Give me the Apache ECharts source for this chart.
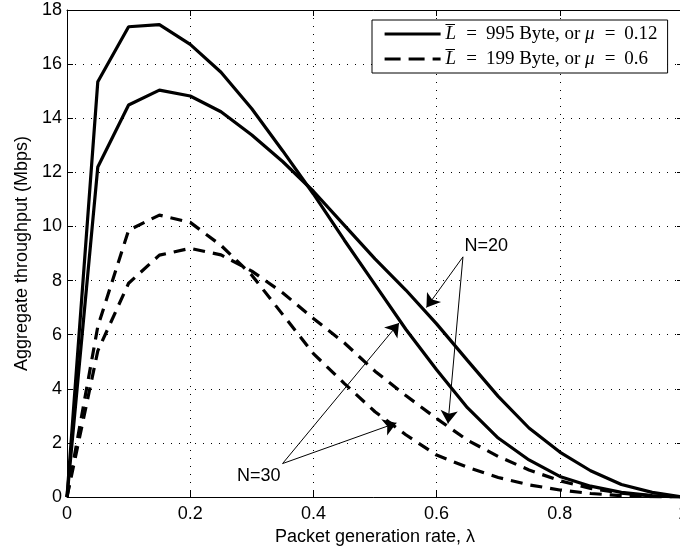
<!DOCTYPE html>
<html><head><meta charset="utf-8">
<script src="https://cdn.jsdelivr.net/npm/echarts@6/dist/echarts.min.js"></script>
<style>html,body{margin:0;padding:0;background:#fff}#c{width:680px;height:550px}</style>
</head><body><div id="c"></div>
<script>
// ---- data ----
const lambda = [0, 0.05, 0.1, 0.15, 0.2, 0.25, 0.3, 0.35, 0.4, 0.45, 0.5, 0.55, 0.6, 0.65, 0.7, 0.75, 0.8, 0.85, 0.9, 0.95, 1.0];
const n30Solid  = [0, 15.35, 17.38, 17.46, 16.73, 15.7, 14.35, 12.8, 11.2, 9.5, 7.85, 6.2, 4.7, 3.3, 2.18, 1.37, 0.76, 0.4, 0.17, 0.05, 0];
const n20Solid  = [0, 12.2, 14.49, 15.04, 14.82, 14.24, 13.38, 12.4, 11.3, 10.05, 8.8, 7.65, 6.4, 5.05, 3.72, 2.55, 1.66, 0.97, 0.46, 0.17, 0];
const n30Dashed = [0, 6.3, 9.86, 10.42, 10.15, 9.3, 8.2, 6.75, 5.3, 4.2, 3.15, 2.3, 1.55, 1.1, 0.72, 0.45, 0.26, 0.13, 0.05, 0.01, 0];
const n20Dashed = [0, 5.4, 7.9, 8.94, 9.19, 8.95, 8.35, 7.55, 6.6, 5.7, 4.65, 3.75, 2.9, 2.1, 1.5, 1.0, 0.6, 0.32, 0.14, 0.04, 0];

const seriesNames = ['L\u0305 = 995 Byte, or \u03bc = 0.12', 'L\u0305 = 199 Byte, or \u03bc = 0.6'];
const legendParts = [['995 Byte, or ', '0.12'], ['199 Byte, or ', '0.6']];
const xTitle = 'Packet generation rate, \u03bb';
const yTitle = 'Aggregate throughput (Mbps)';

// annotations (data coordinates)
const n20LabelText = 'N=20';
const n30LabelText = 'N=30';
const n20LabelPos = [0.6805, 9.29];
const n30LabelPos = [0.3114, 0.784];
const n20ArrowStart = [0.6428, 8.876];
const n20ArrowEnds = [[0.5835, 7.004], [0.6185, 2.714]];
const n30ArrowStart = [0.3499, 1.235];
const n30ArrowEnds = [[0.539, 6.435], [0.5348, 2.737]];

const zip = (xs, ys) => xs.map((x, i) => [x, ys[i]]);

const SANS = 'Liberation Sans, Arial, Helvetica, sans-serif';
const SERIF = 'Liberation Serif, DejaVu Serif, serif';

const arrowLines = [];
n20ArrowEnds.forEach(e => arrowLines.push([{coord: n20ArrowStart}, {coord: e}]));
n30ArrowEnds.forEach(e => arrowLines.push([{coord: n30ArrowStart}, {coord: e}]));

function legendFmt(name) {
  const p = legendParts[seriesNames.indexOf(name)];
  return '{i|L\u0305}{e|=}{t|' + p[0] + '}{i|\u03bc}{e|=}{t|' + p[1] + '}';
}

const solidW = 3.2;
const dashPattern = [12, 8];
const FS = 19;

const chart = echarts.init(document.getElementById('c'), null, {renderer: 'canvas'});
chart.setOption({
  animation: false,
  backgroundColor: '#fff',
  grid: {left: 67, top: 10, width: 616, height: 487, containLabel: false, outerBoundsMode: 'none'},
  legend: {
    data: [
      {name: seriesNames[0], lineStyle: {width: solidW, color: '#000', type: 'solid'}},
      {name: seriesNames[1], lineStyle: {width: solidW, color: '#000', type: [16, 8]}}
    ],
    left: 372, top: 20,
    orient: 'vertical',
    itemWidth: 56, itemHeight: 14, itemGap: 5,
    padding: [4, 10, 4, 11],
    borderColor: '#000', borderWidth: 1,
    backgroundColor: '#fff',
    selectedMode: false,
    itemStyle: {opacity: 0},
    lineStyle: {width: solidW, color: '#000'},
    formatter: legendFmt,
    textStyle: {
      color: '#000', fontFamily: SERIF, fontSize: FS, lineHeight: 20,
      rich: {
        i: {fontFamily: SERIF, fontStyle: 'italic', fontSize: FS, color: '#000', lineHeight: 20, padding: [0, 1, 0, 0]},
        e: {fontFamily: SERIF, fontSize: FS, color: '#000', lineHeight: 20, padding: [0, 9, 0, 9]},
        t: {fontFamily: SERIF, fontSize: FS, color: '#000', lineHeight: 20}
      }
    }
  },
  xAxis: [{
    type: 'value', min: 0, max: 1, interval: 0.2, position: 'bottom',
    name: xTitle, nameLocation: 'middle', nameGap: 29,
    nameTextStyle: {color: '#000', fontFamily: SANS, fontSize: 18},
    axisLine: {show: true, onZero: false, lineStyle: {color: '#000', width: 1}},
    axisTick: {show: true, inside: true, length: 6, lineStyle: {color: '#000', width: 1}},
    axisLabel: {color: '#000', fontFamily: SANS, fontSize: 18, margin: 8},
    splitLine: {show: true, lineStyle: {color: '#000', width: 1, type: [1, 7]}}
  }, {
    type: 'value', min: 0, max: 1, interval: 0.2, position: 'top',
    axisLine: {show: true, onZero: false, lineStyle: {color: '#000', width: 1}},
    axisTick: {show: true, inside: true, length: 6, lineStyle: {color: '#000', width: 1}},
    axisLabel: {show: false}, splitLine: {show: false}
  }],
  yAxis: [{
    type: 'value', min: 0, max: 18, interval: 2, position: 'left',
    name: yTitle, nameLocation: 'middle', nameGap: 31, nameRotate: 90,
    nameTextStyle: {color: '#000', fontFamily: SANS, fontSize: 18},
    axisLine: {show: true, onZero: false, lineStyle: {color: '#000', width: 1}},
    axisTick: {show: true, inside: true, length: 6, lineStyle: {color: '#000', width: 1}},
    axisLabel: {color: '#000', fontFamily: SANS, fontSize: 18, margin: 5},
    splitLine: {show: true, lineStyle: {color: '#000', width: 1, type: [1, 7]}}
  }, {
    type: 'value', min: 0, max: 18, interval: 2, position: 'right',
    axisLine: {show: true, onZero: false, lineStyle: {color: '#000', width: 1}},
    axisTick: {show: true, inside: true, length: 6},
    axisLabel: {show: false}, splitLine: {show: false}
  }],
  series: [{
    name: seriesNames[0], type: 'line', data: zip(lambda, n30Solid),
    symbol: 'none', color: '#000', lineStyle: {color: '#000', width: solidW, type: 'solid'},
    markLine: {
      silent: true, symbol: ['none', 'arrow'], symbolSize: 13,
      lineStyle: {color: '#000', width: 1, type: 'solid'},
      itemStyle: {color: '#000'},
      label: {show: false}, data: arrowLines
    },
    markPoint: {
      silent: true, symbol: 'rect', symbolSize: 0,
      label: {show: true, position: 'inside', color: '#000', fontFamily: SANS, fontSize: 18, formatter: p => p.name},
      data: [{name: n20LabelText, coord: n20LabelPos}, {name: n30LabelText, coord: n30LabelPos}]
    }
  }, {
    name: seriesNames[0], type: 'line', data: zip(lambda, n20Solid),
    symbol: 'none', color: '#000', lineStyle: {color: '#000', width: solidW, type: 'solid'}
  }, {
    name: seriesNames[1], type: 'line', data: zip(lambda, n30Dashed),
    symbol: 'none', color: '#000', lineStyle: {color: '#000', width: solidW, type: dashPattern}
  }, {
    name: seriesNames[1], type: 'line', data: zip(lambda, n20Dashed),
    symbol: 'none', color: '#000', lineStyle: {color: '#000', width: solidW, type: dashPattern}
  }]
});
</script>
</body></html>
